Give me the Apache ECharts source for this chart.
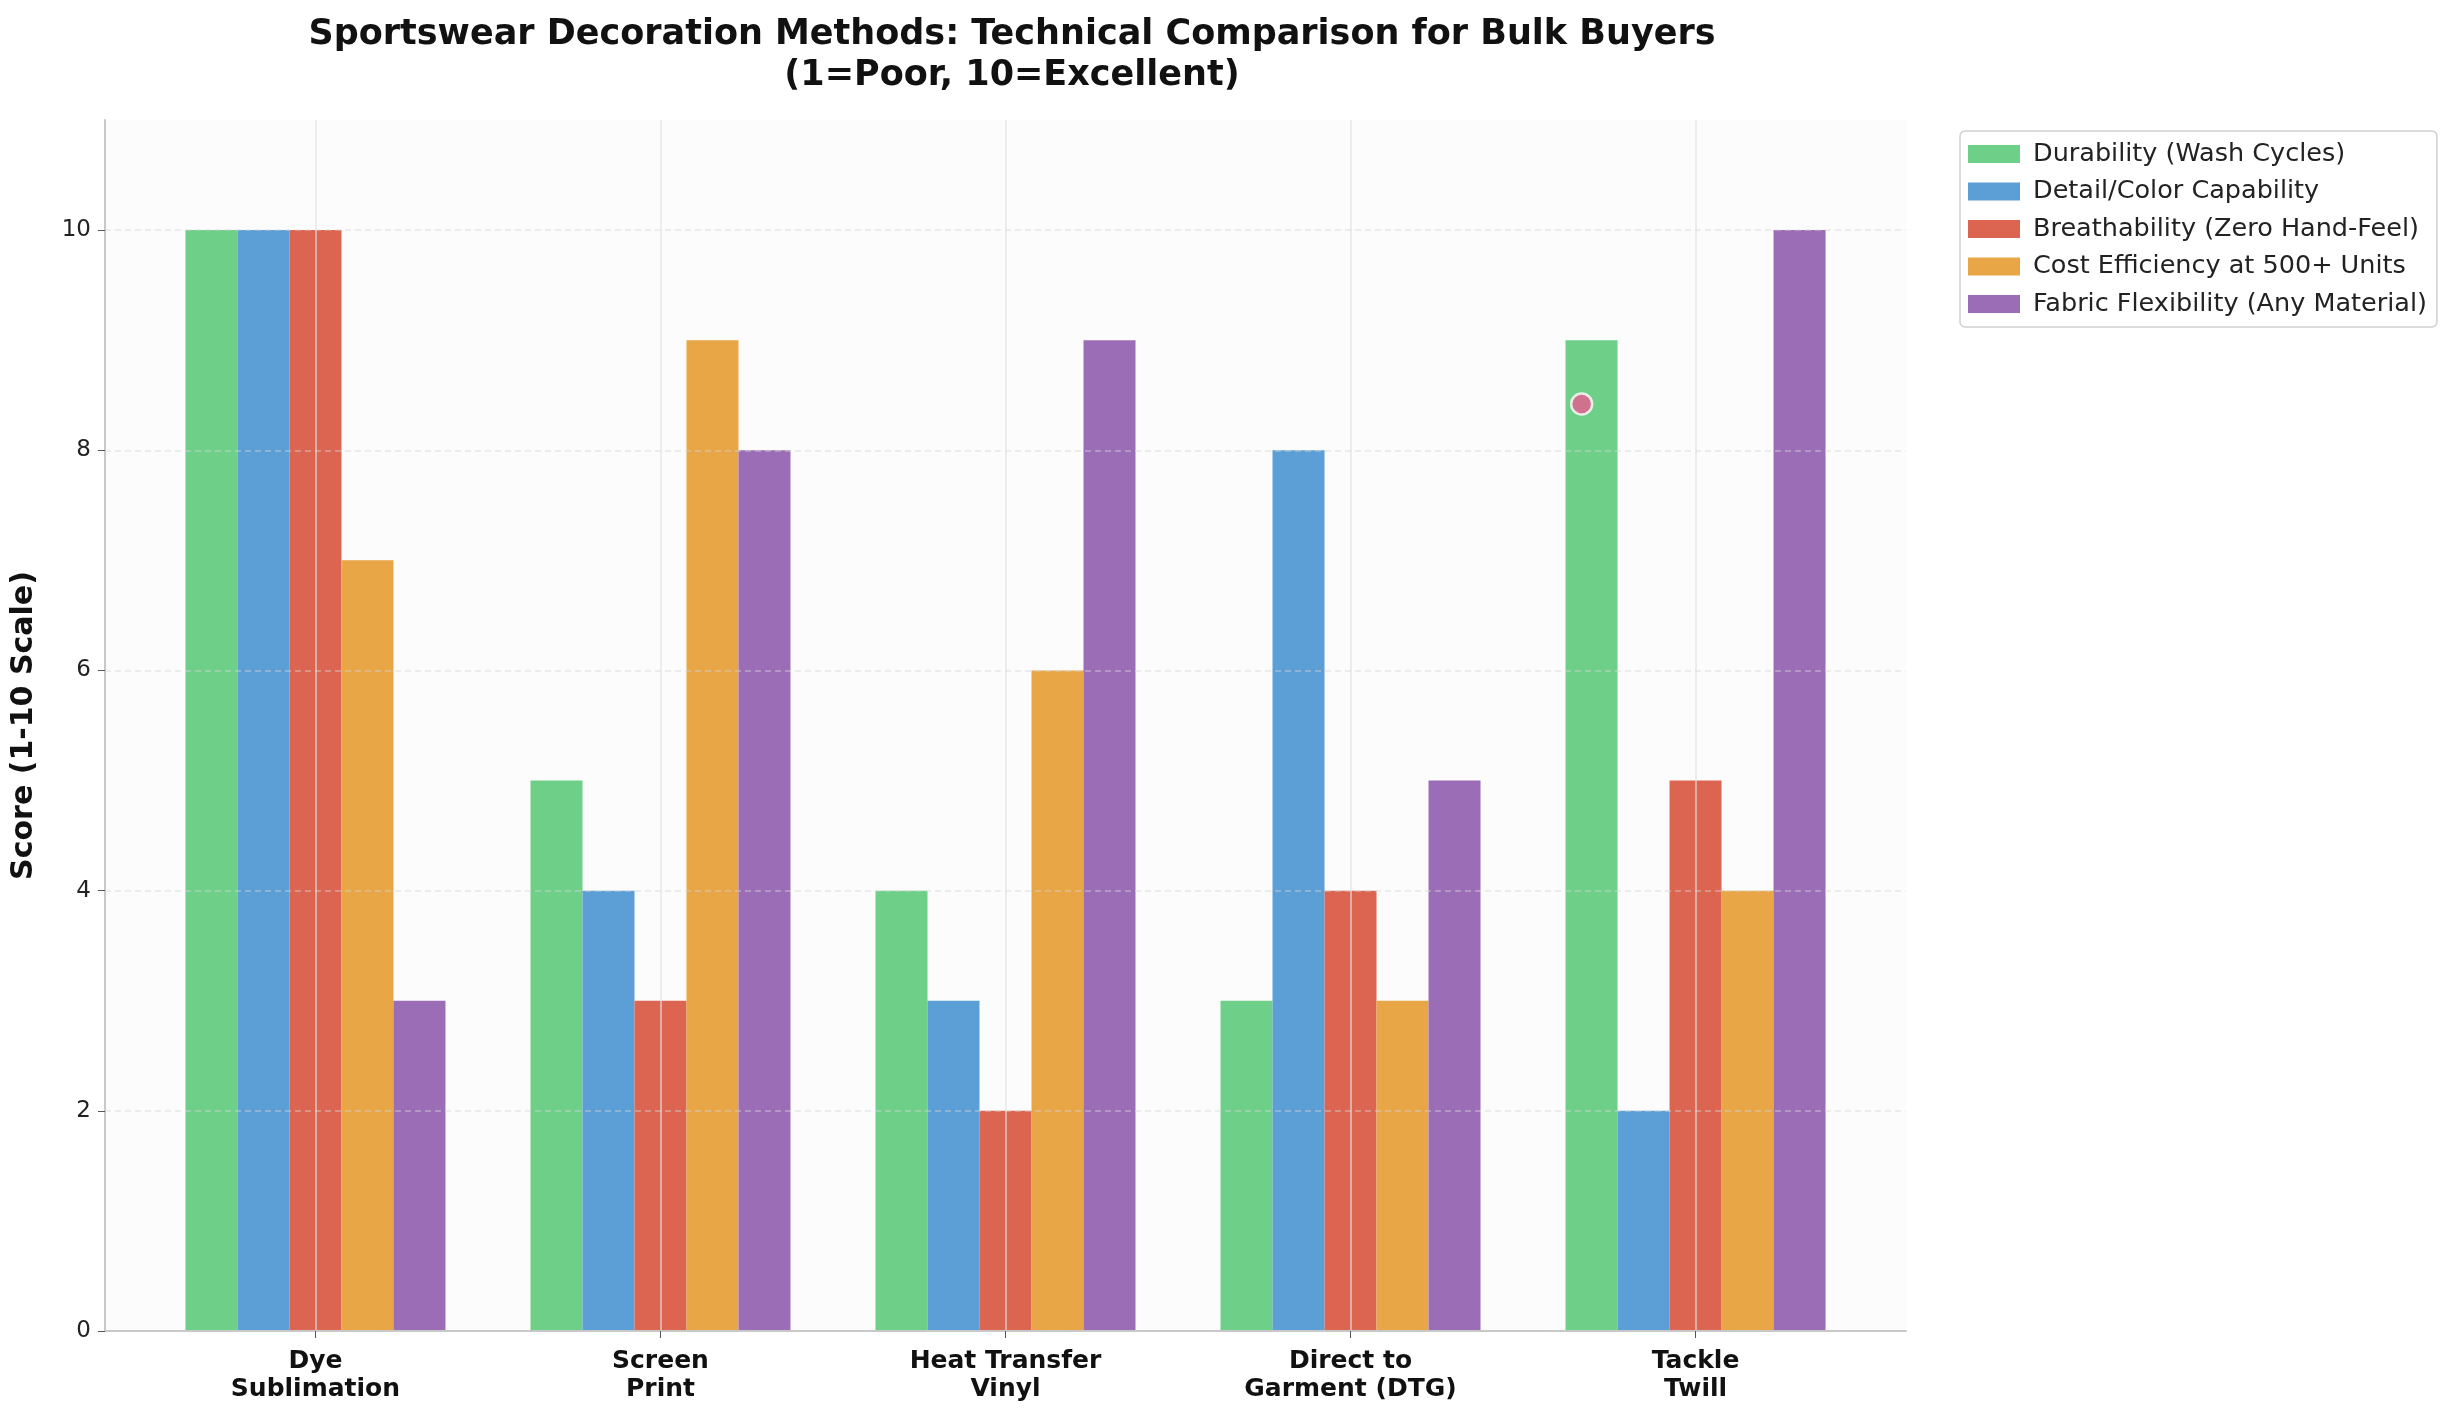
<!DOCTYPE html>
<html>
<head>
<meta charset="utf-8">
<script src="https://cdn.jsdelivr.net/npm/echarts@6/dist/echarts.min.js"></script>
<style>
  html, body { margin: 0; padding: 0; background: #fff; }
  #chart { width: 2446px; height: 1418px; }
</style>
</head>
<body>
<div id="chart"></div>
<script>
var methods = ['Dye\nSublimation', 'Screen\nPrint', 'Heat Transfer\nVinyl', 'Direct to\nGarment (DTG)', 'Tackle\nTwill'];
var seriesNames = [
  'Durability (Wash Cycles)',
  'Detail/Color Capability',
  'Breathability (Zero Hand-Feel)',
  'Cost Efficiency at 500+ Units',
  'Fabric Flexibility (Any Material)'
];
var durability = [10, 5, 4, 3, 9];
var detail = [10, 4, 3, 8, 2];
var breathability = [10, 3, 2, 4, 5];
var costEfficiency = [7, 9, 6, 3, 4];
var flexibility = [3, 8, 9, 5, 10];
var colors = ['#6dcf88', '#5c9fd7', '#dc6552', '#e8a646', '#9b6db7'];
// the stray pink marker in the reference
var marker = [[3.67, 8.42]];

var allValues = [durability, detail, breathability, costEfficiency, flexibility];
var font = 'DejaVu Sans';

var series = allValues.map(function (vals, i) {
  return {
    name: seriesNames[i],
    type: 'bar',
    barWidth: 52,
    barGap: '0%',
    itemStyle: { color: colors[i] },
    data: vals.map(function (v, j) { return [j, v]; })
  };
});
series.push({
  type: 'scatter',
  symbolSize: 21,
  itemStyle: {
    color: '#e65a8e',
    borderColor: '#fff',
    borderWidth: 2.5
  },
  z: 10,
  data: marker
});

var chart = echarts.init(document.getElementById('chart'));
chart.setOption({
  animation: false,
  textStyle: { fontFamily: font },
  title: {
    text: 'Sportswear Decoration Methods: Technical Comparison for Bulk Buyers\n(1=Poor, 10=Excellent)',
    left: 1007,
    textAlign: 'center',
    top: 9,
    textStyle: { fontFamily: font, fontSize: 35, fontWeight: 'bold', color: '#111', lineHeight: 41 }
  },
  legend: {
    orient: 'vertical',
    left: 1960,
    top: 131,
    icon: 'rect',
    itemWidth: 52,
    itemHeight: 18,
    itemGap: 11.5,
    padding: [10, 10, 10, 8],
    borderColor: '#cfcfcf',
    borderWidth: 1.5,
    borderRadius: 5,
    backgroundColor: '#fff',
    textStyle: { fontFamily: font, fontSize: 25.5, color: '#222', padding: [0, 0, 0, 8] },
    data: seriesNames
  },
  grid: {
    left: 105,
    right: 540,
    top: 120,
    bottom: 87,
    show: true,
    backgroundColor: '#fcfcfc',
    borderWidth: 0
  },
  xAxis: {
    type: 'value',
    min: -0.61,
    max: 4.61,
    z: 5,
    axisLine: { show: true, lineStyle: { color: '#c8c8c8', width: 2 } },
    axisTick: { show: true, customValues: [0, 1, 2, 3, 4], length: 7, lineStyle: { color: '#555' } },
    axisLabel: {
      customValues: [0, 1, 2, 3, 4],
      formatter: function (v) { return methods[Math.round(v)]; },
      fontFamily: font,
      fontSize: 25,
      fontWeight: 'bold',
      color: '#111',
      lineHeight: 28,
      margin: 16
    },
    splitLine: { show: true, lineStyle: { color: 'rgba(225,225,225,0.6)', width: 2 } }
  },
  yAxis: {
    type: 'value',
    min: 0,
    max: 11,
    interval: 2,
    z: 5,
    name: 'Score (1-10 Scale)',
    nameLocation: 'middle',
    nameGap: 66,
    nameTextStyle: { fontFamily: font, fontSize: 30, fontWeight: 'bold', color: '#111' },
    axisLine: { show: true, onZero: false, lineStyle: { color: '#c8c8c8', width: 2 } },
    axisTick: { show: true, length: 7, lineStyle: { color: '#555' } },
    axisLabel: { fontFamily: font, fontSize: 23, color: '#222', margin: 14, showMaxLabel: false },
    splitLine: { show: true, showMaxLine: false, showMinLine: false, lineStyle: { color: 'rgba(215,215,215,0.55)', width: 1.5, type: [6, 4] } }
  },
  series: series
});
</script>
</body>
</html>
